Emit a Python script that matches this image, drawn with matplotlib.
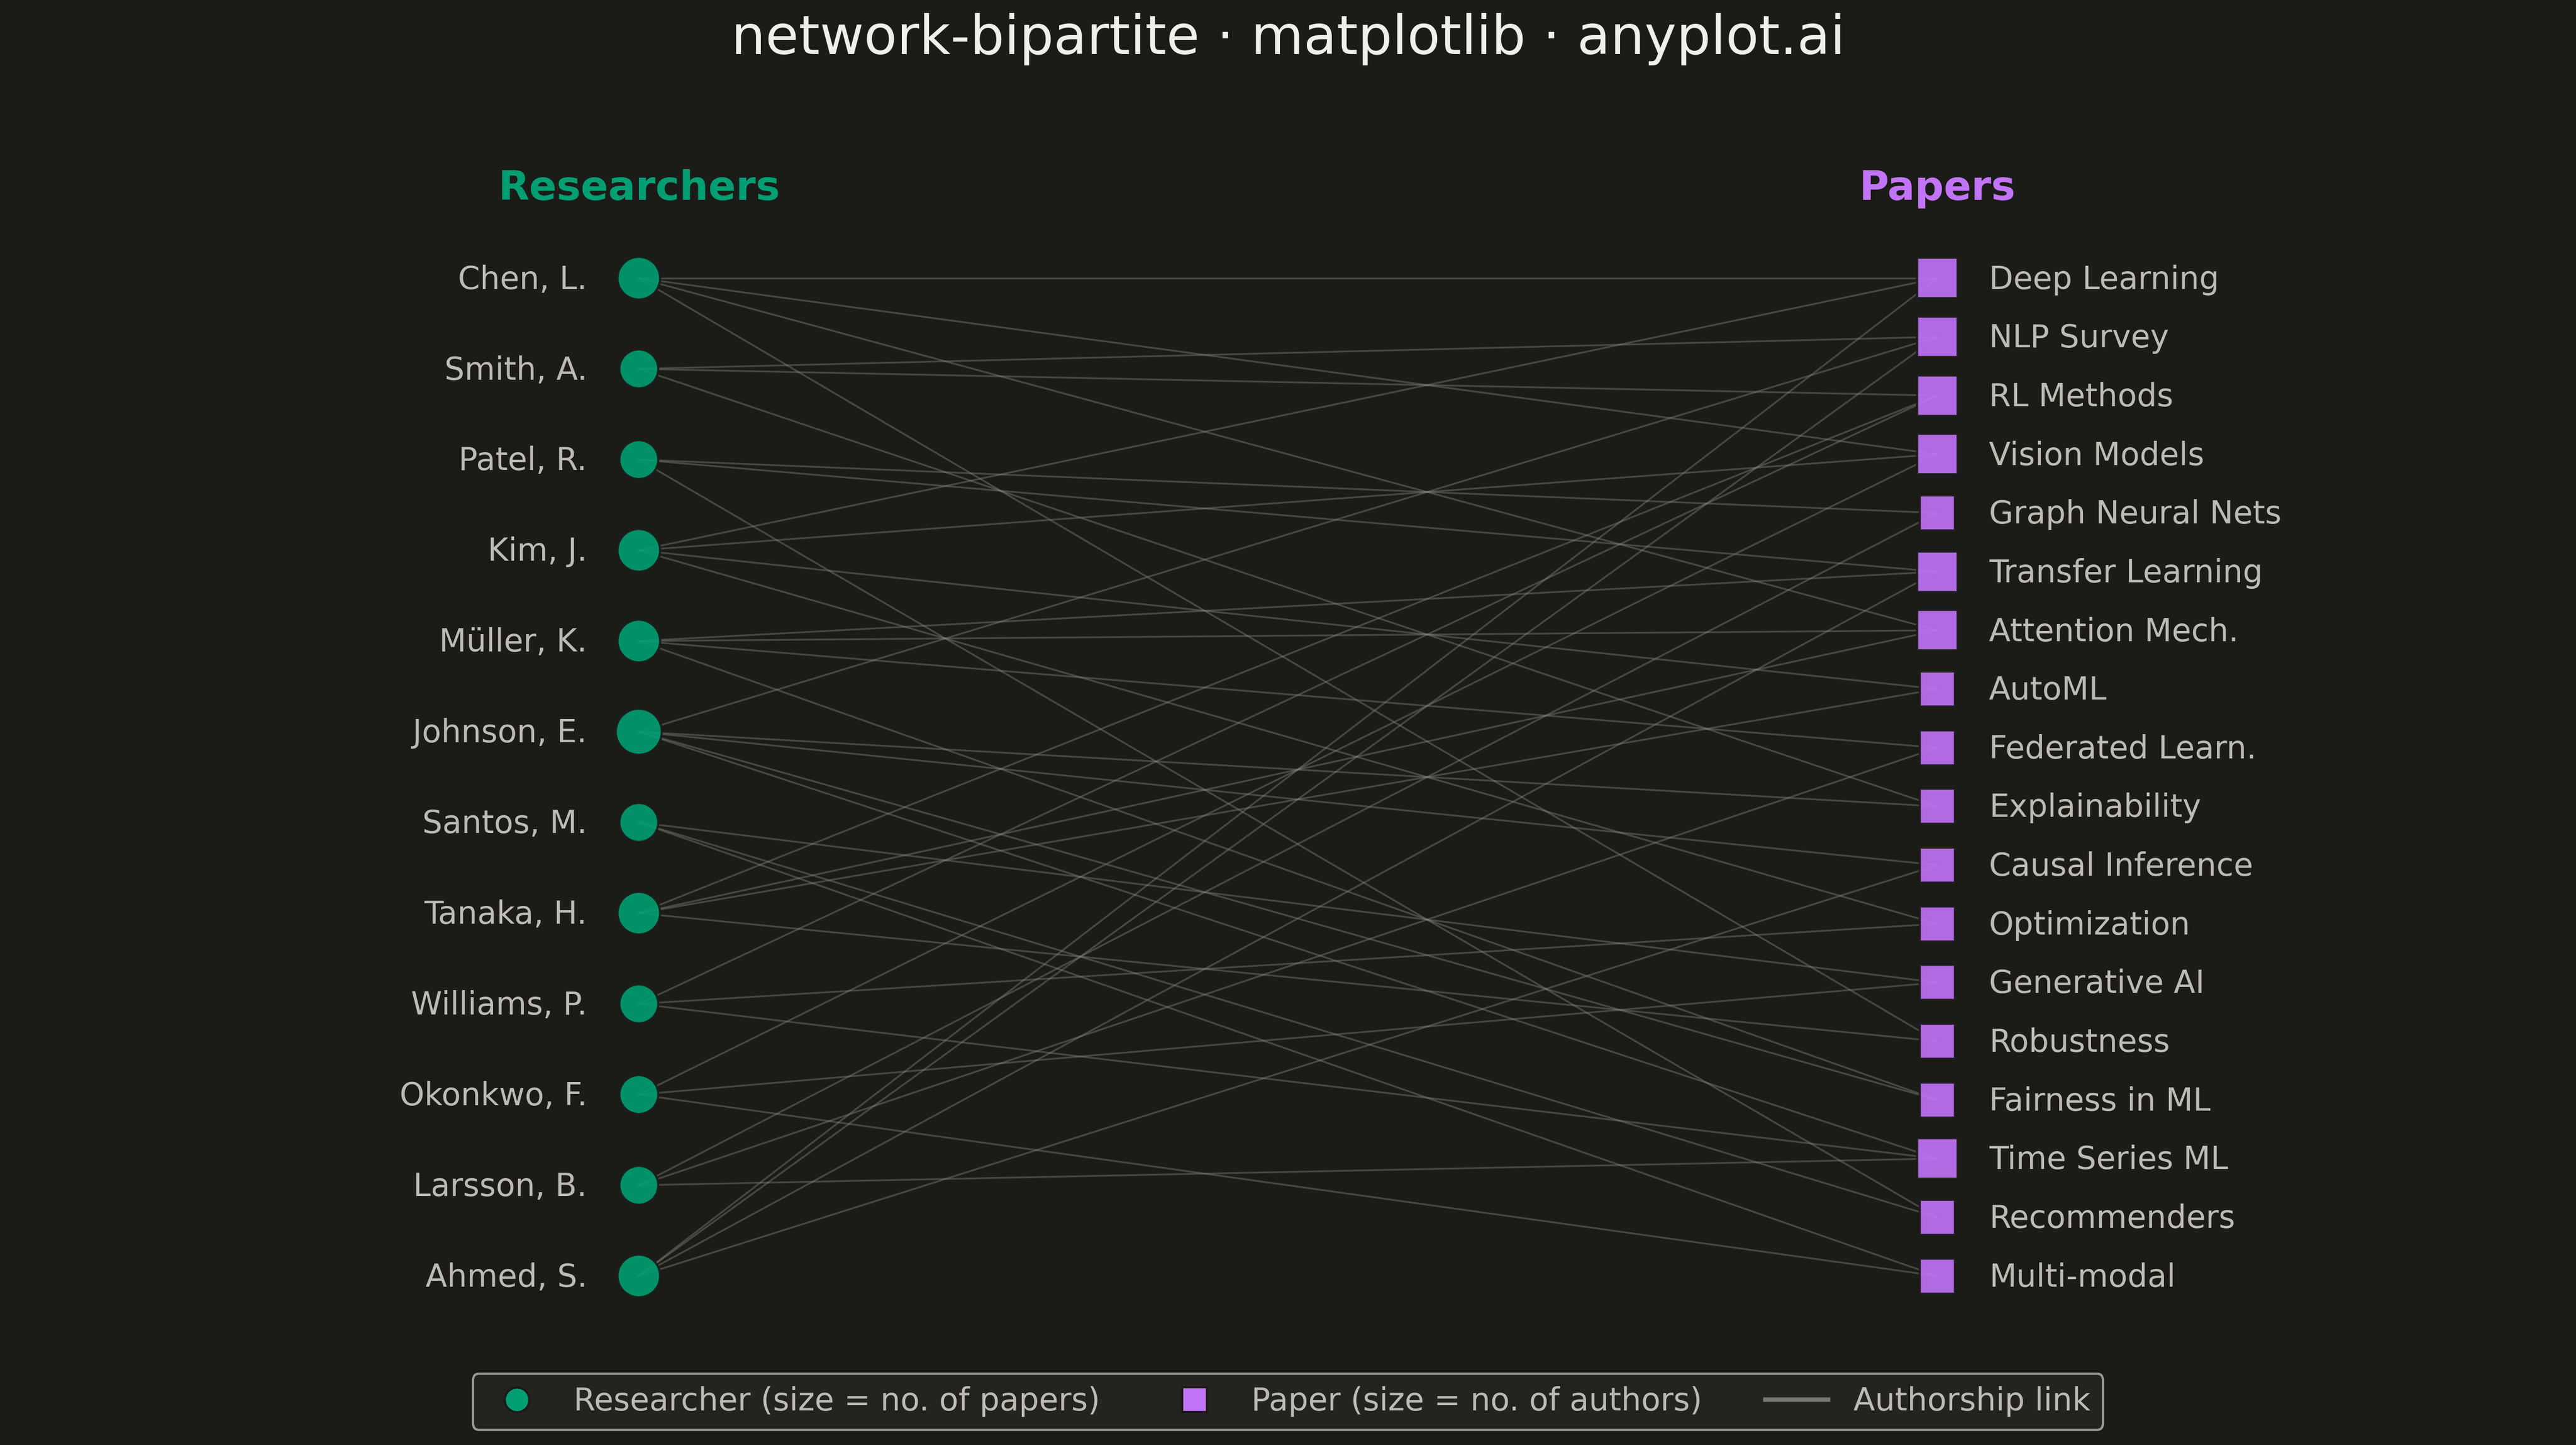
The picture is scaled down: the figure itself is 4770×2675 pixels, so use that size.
import matplotlib
matplotlib.use("Agg")
import matplotlib.pyplot as plt
from matplotlib.lines import Line2D

# Nodes
researchers = ["Chen, L.", "Smith, A.", "Patel, R.", "Kim, J.", "Müller, K.", "Johnson, E.",
               "Santos, M.", "Tanaka, H.", "Williams, P.", "Okonkwo, F.", "Larsson, B.", "Ahmed, S."]
papers = ["Deep Learning", "NLP Survey", "RL Methods", "Vision Models", "Graph Neural Nets",
          "Transfer Learning", "Attention Mech.", "AutoML", "Federated Learn.", "Explainability",
          "Causal Inference", "Optimization", "Generative AI", "Robustness", "Fairness in ML",
          "Time Series ML", "Recommenders", "Multi-modal"]

# Authorship links (researcher, paper)
edges = [
    ("Chen, L.", "Deep Learning"), ("Chen, L.", "Vision Models"),
    ("Chen, L.", "Attention Mech."), ("Chen, L.", "Robustness"),
    ("Smith, A.", "NLP Survey"), ("Smith, A.", "RL Methods"), ("Smith, A.", "Explainability"),
    ("Patel, R.", "Graph Neural Nets"), ("Patel, R.", "Transfer Learning"), ("Patel, R.", "Recommenders"),
    ("Kim, J.", "Deep Learning"), ("Kim, J.", "Vision Models"),
    ("Kim, J.", "AutoML"), ("Kim, J.", "Optimization"),
    ("Müller, K.", "Transfer Learning"), ("Müller, K.", "Attention Mech."),
    ("Müller, K.", "Federated Learn."), ("Müller, K.", "Fairness in ML"),
    ("Johnson, E.", "NLP Survey"), ("Johnson, E.", "Explainability"), ("Johnson, E.", "Causal Inference"),
    ("Johnson, E.", "Fairness in ML"), ("Johnson, E.", "Time Series ML"),
    ("Santos, M.", "Generative AI"), ("Santos, M.", "Recommenders"), ("Santos, M.", "Multi-modal"),
    ("Tanaka, H.", "RL Methods"), ("Tanaka, H.", "Attention Mech."),
    ("Tanaka, H.", "AutoML"), ("Tanaka, H.", "Robustness"),
    ("Williams, P.", "RL Methods"), ("Williams, P.", "Optimization"), ("Williams, P.", "Time Series ML"),
    ("Okonkwo, F.", "Vision Models"), ("Okonkwo, F.", "Generative AI"), ("Okonkwo, F.", "Multi-modal"),
    ("Larsson, B.", "Graph Neural Nets"), ("Larsson, B.", "Federated Learn."), ("Larsson, B.", "Time Series ML"),
    ("Ahmed, S.", "Deep Learning"), ("Ahmed, S.", "NLP Survey"),
    ("Ahmed, S.", "Transfer Learning"), ("Ahmed, S.", "Causal Inference"),
]

BG = "#1B1B17"
GREEN = "#009E73"
PURPLE = "#C274F9"
LINK = "#8A8A82"
TEXT = "#BCBCB4"

r_deg = [sum(1 for r, p in edges if r == name) for name in researchers]
p_deg = [sum(1 for r, p in edges if p == name) for name in papers]

n_r, n_p = len(researchers), len(papers)
r_y = [1 - i / (n_r - 1) for i in range(n_r)]
p_y = [1 - j / (n_p - 1) for j in range(n_p)]

fig = plt.figure(figsize=(15.9, 8.9167), dpi=300, facecolor=BG)
ax = fig.add_axes([0, 0, 1, 1])
ax.set_facecolor(BG)
ax.set_xlim(-0.492, 1.492)
ax.set_ylim(-0.1694, 1.2788)
ax.axis("off")

# links
for r, p in edges:
    ax.plot([0, 1], [r_y[researchers.index(r)], p_y[papers.index(p)]],
            color=LINK, lw=0.8, alpha=0.4, zorder=1)

# nodes
ax.scatter([0] * n_r, r_y, s=[120 + 60 * d for d in r_deg], c=GREEN, alpha=0.9,
           edgecolors=BG, linewidths=1.0, zorder=3)
ax.scatter([1] * n_p, p_y, s=[84 + 80 * d for d in p_deg], marker="s", c=PURPLE, alpha=0.9,
           edgecolors=BG, linewidths=1.0, zorder=3)

# labels
for name, y in zip(researchers, r_y):
    ax.annotate(name, (0, y), xytext=(-23, -0.75), textcoords="offset points",
                ha="right", va="center", fontsize=14, color=TEXT)
for name, y in zip(papers, p_y):
    ax.annotate(name, (1, y), xytext=(23, -0.75), textcoords="offset points",
                ha="left", va="center", fontsize=14, color=TEXT)

ax.text(0, 1.0785, "Researchers", ha="center", va="baseline", fontsize=18,
        fontweight="bold", color=GREEN)
ax.text(1, 1.0785, "Papers", ha="center", va="baseline", fontsize=18,
        fontweight="bold", color=PURPLE)

fig.text(0.5, 0.973, "network-bipartite · matplotlib · anyplot.ai", ha="center", va="center",
         fontsize=24, color="#F0F0EA")

handles = [
    Line2D([], [], marker="o", ls="none", markersize=11, markerfacecolor=GREEN,
           markeredgecolor=BG, label="Researcher (size = no. of papers)"),
    Line2D([], [], marker="s", ls="none", markersize=11, markerfacecolor=PURPLE,
           markeredgecolor=BG, label="Paper (size = no. of authors)"),
    Line2D([], [], color=LINK, lw=2, alpha=0.8, label="Authorship link"),
]
fig.legend(handles=handles, loc="center", bbox_to_anchor=(0.5, 0.030), ncol=3, fontsize=14,
           frameon=True, facecolor="#232320", edgecolor="#9A9A94", framealpha=1,
           labelcolor=TEXT)

fig.savefig("out.png", dpi=300, facecolor=BG)
